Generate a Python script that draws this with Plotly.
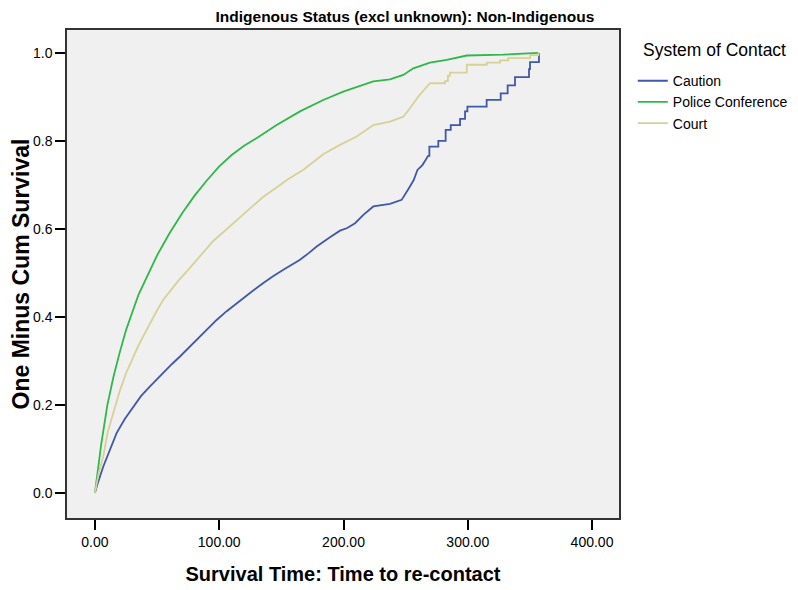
import plotly.graph_objects as go

# ---- data (time to re-contact, one minus cumulative survival) ----
caution_t = [0, 2, 6.7, 12, 17.4, 24, 30.8, 37, 44.3, 50, 55, 62, 68.4, 75, 81.8, 90, 97.9, 106, 114,
             125, 135.5, 143, 151.6, 158, 165, 172, 178.4, 189.1, 197.2, 203, 209.3, 216, 224,
             237.4, 246.8, 252.5, 256.5, 259.5, 263.5, 266.2, 268.1,
             269.1, 269.1, 276.3, 276.3, 282.2, 282.2, 286.3, 286.3, 293.8, 293.8, 297.8, 297.8,
             299.7, 299.7, 315.2, 315.2, 326.5, 326.5, 332.1, 332.1, 338.0, 338.0, 349.3, 349.3,
             350.1, 350.1, 357.3, 357.3]
caution_v = [0, 0.02, 0.06, 0.10, 0.136, 0.168, 0.196, 0.22, 0.242, 0.259, 0.274, 0.293, 0.310, 0.329,
             0.348, 0.372, 0.393, 0.413, 0.431, 0.455, 0.477, 0.492, 0.507, 0.518, 0.530, 0.545, 0.560,
             0.581, 0.596, 0.602, 0.613, 0.632, 0.651, 0.657, 0.666, 0.692, 0.711, 0.734, 0.745, 0.757, 0.766,
             0.766, 0.787, 0.787, 0.800, 0.800, 0.825, 0.825, 0.836, 0.836, 0.850, 0.850, 0.867,
             0.867, 0.878, 0.878, 0.893, 0.893, 0.908, 0.908, 0.926, 0.926, 0.945, 0.945, 0.963,
             0.963, 0.979, 0.979, 1.0]

police_t = [0, 2, 5, 10, 15, 20, 25, 30, 35, 40, 45, 50, 55, 60, 70, 80, 90, 100, 110, 120, 130,
            146.2, 165, 183.7, 199.8, 210.6, 224, 237.4, 248.1, 256.2, 269.6, 283.1, 299.2, 328.6, 356.8]
police_v = [0, 0.05, 0.11, 0.20, 0.265, 0.32, 0.37, 0.41, 0.45, 0.48, 0.51, 0.54, 0.565, 0.59, 0.635,
            0.675, 0.71, 0.742, 0.768, 0.789, 0.806, 0.836, 0.867, 0.893, 0.912, 0.922, 0.935, 0.940,
            0.950, 0.965, 0.978, 0.984, 0.994, 0.996, 1.0]

court_t = [0, 3, 6.7, 10, 14.7, 20, 25, 30, 35, 40, 45, 50, 55, 60, 67, 75, 82, 90, 95, 105, 114,
           125, 135, 145, 155, 168, 176, 184, 197.2, 210.6, 224, 237.4, 248.1, 253.5, 260.2, 269.6,
           281.7, 281.7, 284, 284, 285.7, 285.7, 299.2, 299.2, 315.3, 315.3, 326.0, 326.0,
           332.6, 332.6, 350.1, 350.1, 356.8, 356.8]
court_v = [0, 0.045, 0.083, 0.135, 0.181, 0.232, 0.272, 0.305, 0.335, 0.362, 0.39, 0.415, 0.439, 0.458,
           0.482, 0.507, 0.53, 0.556, 0.572, 0.597, 0.62, 0.648, 0.672, 0.692, 0.712, 0.735, 0.752,
           0.77, 0.791, 0.810, 0.836, 0.844, 0.855, 0.874, 0.901, 0.931,
           0.931, 0.936, 0.936, 0.948, 0.948, 0.955, 0.955, 0.973, 0.973, 0.978, 0.978, 0.983,
           0.983, 0.988, 0.988, 0.995, 0.995, 1.0]

series_names = ["Caution", "Police Conference", "Court"]
colors = ["#3E58AC", "#2EB848", "#D6D194"]

fig = go.Figure()
for name, t, v, c in zip(series_names, [caution_t, police_t, court_t],
                         [caution_v, police_v, court_v], colors):
    fig.add_trace(go.Scatter(x=t, y=v, mode="lines", name=name,
                             line=dict(color=c, width=1.8, shape="linear")))

font_family = "Liberation Sans, Arial, sans-serif"

# page body has an 8px default margin, so the figure is 8px smaller
fig.update_layout(
    width=790, height=582,
    margin=dict(l=59, r=179, t=22, b=72, autoexpand=False),
    paper_bgcolor="white",
    plot_bgcolor="#F0F0F0",
    font=dict(family=font_family, color="black", size=14),
    title=dict(text="<b>Indigenous Status (excl unknown): Non-Indigenous</b>",
               x=0.5025, xanchor="center", y=0.9845, yanchor="middle",
               font=dict(size=15.5, family=font_family)),
    showlegend=True,
    legend=dict(
        x=1.025, xanchor="left", y=0.928, yanchor="top",
        font=dict(size=14),
        bgcolor="rgba(0,0,0,0)",
        tracegroupgap=0,
    ),
    annotations=[dict(text="System of Contact", xref="paper", yref="paper",
                      x=1.039, xanchor="left", y=0.959, yanchor="middle",
                      showarrow=False, font=dict(size=17.5))],
    xaxis=dict(
        range=[-22.5, 421.7], dtick=100, tick0=0, tickformat=".2f",
        showgrid=False, zeroline=False, automargin=False,
        showline=True, linecolor="#333333", linewidth=1.5, mirror=True,
        ticks="outside", ticklen=10, tickwidth=1.5, tickcolor="black",
        tickfont=dict(size=14),
        title=dict(text="<b>Survival Time: Time to re-contact</b>", font=dict(size=20), standoff=18),
    ),
    yaxis=dict(
        range=[-0.057, 1.052], dtick=0.2, tick0=0, tickformat=".1f",
        showgrid=False, zeroline=False, automargin=False,
        showline=True, linecolor="#333333", linewidth=1.5, mirror=True,
        ticks="outside", ticklen=10, tickwidth=1.5, tickcolor="black",
        tickfont=dict(size=14),
        title=dict(text="<b>One Minus Cum Survival</b>", font=dict(size=23), standoff=0),
    ),
)

fig.write_html("out.html")
